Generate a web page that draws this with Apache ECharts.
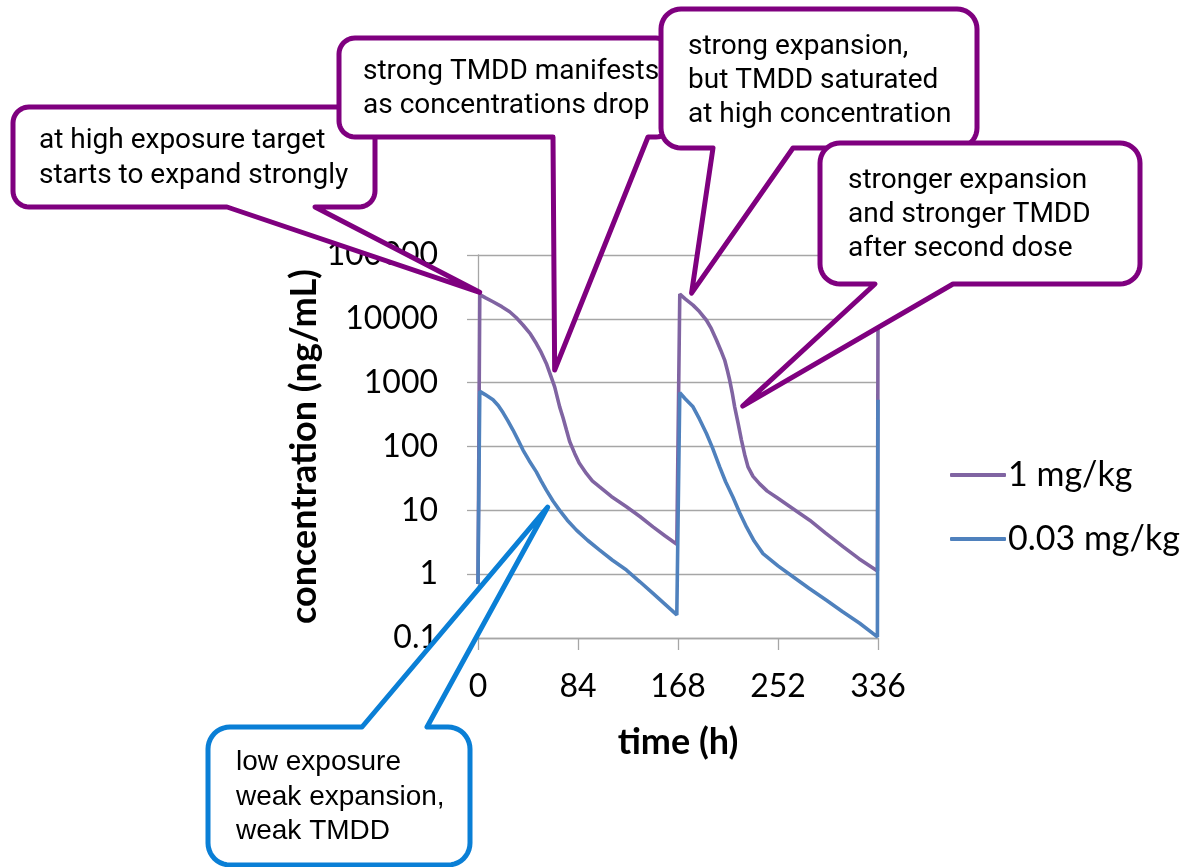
<!DOCTYPE html>
<html><head><meta charset="utf-8">
<script src="https://cdn.jsdelivr.net/npm/echarts@6/dist/echarts.min.js"></script>
<style>html,body{margin:0;padding:0;background:#fff}#c{width:1181px;height:867px}</style>
</head><body><div id="c"></div>
<script>
// ---- data ----
const seriesNames = ['1 mg/kg', '0.03 mg/kg'];
const timeHigh = [0, 1.5, 6, 12.6, 20, 26.6, 32, 37.8, 44, 49, 53, 57.4, 61, 64.4, 66.5, 68.6, 71.5, 74.3, 77, 81.2, 85, 91, 96, 102.2, 112, 124.7, 136, 147, 157, 167,
  168, 169.5, 174, 180.6, 186, 191.9, 196, 200.3, 204, 207.2, 209.5, 211.4, 213.5, 215.6, 218.5, 221.3, 224, 226.8, 231, 236.6, 243, 250.7, 264, 278.6, 292, 306.6, 320, 335.5, 336];
const concHigh = [0.7, 24000, 21500, 18500, 15500, 12900, 10500, 8000, 5800, 4100, 3000, 2000, 1300, 860, 600, 418, 280, 181, 120, 78, 55, 37.8, 29, 23.3, 16.5, 11.4, 8, 5.5, 4, 2.95,
  2.9, 24500, 20500, 16400, 13000, 9500, 7000, 4650, 3200, 2260, 1550, 1100, 700, 418, 230, 126, 75, 48, 34, 26, 20, 16, 10.8, 7.0, 4.4, 2.7, 1.75, 1.12, 8000];
const timeLow = [0, 1.5, 6, 12.6, 17, 21, 25, 29.4, 33.5, 37.8, 43, 49, 53, 57.4, 63, 68.6, 75, 82.7, 92, 102.2, 113, 124.7, 136, 147, 157, 167,
  168, 169.5, 174, 180.6, 186, 191.9, 197, 203, 208, 214.2, 220, 225.5, 232, 239.4, 252, 264.6, 278, 292.7, 306, 320.6, 335.5, 336];
const concLow = [0.7, 730, 650, 540, 440, 340, 255, 181, 128, 88, 60, 40, 29, 20.7, 14, 10, 7, 4.9, 3.4, 2.38, 1.65, 1.16, 0.76, 0.5, 0.34, 0.23,
  0.23, 700, 560, 418, 270, 160, 95, 48, 28, 16, 9, 5.5, 3.3, 2.1, 1.35, 0.91, 0.6, 0.39, 0.26, 0.17, 0.104, 540];
const xTickValues = [0, 84, 168, 252, 336];
const yTickLabels = ['0.1', '1', '10', '100', '1000', '10000', '100000'];

// callout annotations: text lines and the data point each tail points at
const calloutTexts = [
  ['at high exposure target', 'starts to expand strongly'],
  ['strong TMDD manifests', 'as concentrations drop'],
  ['strong expansion,', 'but TMDD saturated', 'at high concentration'],
  ['stronger expansion', 'and stronger TMDD', 'after second dose'],
  ['low exposure', 'weak expansion,', 'weak TMDD']
];
const calloutAnchors = [[1.4, 26000], [64.4, 1580], [179.4, 25300], [222.3, 430], [58.5, 11.2]];

// ---- layout (pixels) ----
const boxes = [
  {x0: 13, y0: 107, x1: 375, y1: 207, r: 16, side: 'bottom', a: 227, c: 315, color: '#7F007F', font: 'Roboto', size: 28, tx: 39, ty: [141, 176]},
  {x0: 339, y0: 38, x1: 672, y1: 137, r: 16, side: 'bottom', a: 553, c: 648, color: '#7F007F', font: 'Roboto', size: 28, tx: 363, ty: [72, 106]},
  {x0: 661, y0: 9, x1: 977, y1: 148, r: 20, side: 'bottom', a: 713, c: 793, color: '#7F007F', font: 'Roboto', size: 28, tx: 688, ty: [47, 81, 115]},
  {x0: 820, y0: 143, x1: 1140, y1: 284, r: 20, side: 'bottom', a: 875, c: 953, color: '#7F007F', font: 'Roboto', size: 28, tx: 848, ty: [181, 215, 249]},
  {x0: 208, y0: 727, x1: 470, y1: 865, r: 22, side: 'top', a: 362, c: 427, color: '#0A7FD6', font: 'Liberation Sans', size: 28, tx: 236, ty: [762, 797, 831]}
];

function pairs(xs, ys) { return xs.map((x, i) => [x, ys[i]]); }

function arcPts(pts, cx, cy, r, a0, a1) {
  const n = 10;
  for (let i = 0; i <= n; i++) {
    const t = (a0 + (a1 - a0) * i / n) * Math.PI / 180;
    pts.push([cx + r * Math.cos(t), cy + r * Math.sin(t)]);
  }
}
function calloutPoints(b, tip) {
  const {x0, y0, x1, y1, r, side, a, c} = b;
  const pts = [];
  if (side === 'top') { pts.push([a, y0], tip, [c, y0]); }
  arcPts(pts, x1 - r, y0 + r, r, -90, 0);
  arcPts(pts, x1 - r, y1 - r, r, 0, 90);
  if (side === 'bottom') { pts.push([c, y1], tip, [a, y1]); }
  arcPts(pts, x0 + r, y1 - r, r, 90, 180);
  arcPts(pts, x0 + r, y0 + r, r, 180, 270);
  return pts;
}

const chart = echarts.init(document.getElementById('c'), null, {renderer: 'canvas'});
const gridColor = '#A6A6A6';
chart.setOption({
  animation: false,
  backgroundColor: '#fff',
  grid: {left: 478, right: 303, top: 255, bottom: 229},
  legend: {
    orient: 'vertical', left: 945, top: 453,
    itemWidth: 56, itemHeight: 4, itemGap: 30, icon: 'roundRect',
    textStyle: {fontFamily: 'Lato', fontSize: 34, color: '#000', padding: [0, 0, 0, -3]},
    data: seriesNames
  },
  xAxis: {
    type: 'value', min: 0, max: 336, interval: 84,
    name: 'time (h)', nameLocation: 'middle', nameGap: 86,
    nameTextStyle: {fontFamily: 'Lato', fontWeight: 'bold', fontSize: 36, color: '#000'},
    axisLine: {show: true, onZero: false, lineStyle: {color: gridColor, width: 1.3}},
    axisTick: {show: true, length: 12, lineStyle: {color: gridColor, width: 1.3}},
    splitLine: {show: false},
    axisLabel: {margin: 33, fontFamily: 'Lato', fontSize: 32, color: '#000',
      formatter: v => xTickValues.includes(v) ? String(v) : ''}
  },
  yAxis: {
    type: 'log', logBase: 10, min: 0.1, max: 100000,
    name: 'concentration (ng/mL)', nameLocation: 'middle', nameGap: 148,
    nameTextStyle: {fontFamily: 'Lato', fontWeight: 'bold', fontSize: 36, color: '#000'},
    axisLine: {show: true, lineStyle: {color: gridColor, width: 1.3}},
    axisTick: {show: true, length: 11, lineStyle: {color: gridColor, width: 1.3}},
    splitLine: {show: true, lineStyle: {color: gridColor, width: 1.3}},
    axisLabel: {margin: 40, fontFamily: 'Lato', fontSize: 32, color: '#000',
      formatter: v => yTickLabels[Math.round(Math.log10(v)) + 1] || ''}
  },
  series: [
    {name: seriesNames[0], type: 'line', showSymbol: false, data: pairs(timeHigh, concHigh),
      color: '#8064A2', lineStyle: {width: 3.6, color: '#8064A2'}, z: 2},
    {name: seriesNames[1], type: 'line', showSymbol: false, data: pairs(timeLow, concLow),
      color: '#4F81BD', lineStyle: {width: 3.6, color: '#4F81BD'}, z: 3}
  ]
});

const elements = [];
boxes.forEach((b, i) => {
  const tip = chart.convertToPixel({gridIndex: 0}, calloutAnchors[i]);
  elements.push({type: 'polygon', z: 10 + 2 * i, shape: {points: calloutPoints(b, tip)},
    style: {fill: '#fff', stroke: b.color, lineWidth: 5, lineJoin: 'round'}});
  calloutTexts[i].forEach((line, j) => {
    elements.push({type: 'text', z: 11 + 2 * i, x: b.tx, y: b.ty[j],
      style: {text: line, fontFamily: b.font, fontSize: b.size, fill: '#000', verticalAlign: 'middle', align: 'left'}});
  });
});
chart.setOption({graphic: {elements}});
</script>
</body></html>
